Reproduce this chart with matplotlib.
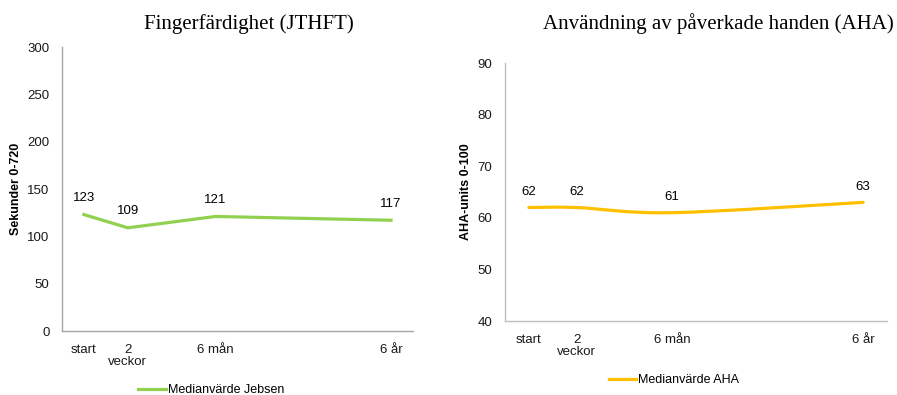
import numpy as np
import matplotlib.pyplot as plt
from matplotlib.path import Path
from matplotlib.patches import PathPatch
from matplotlib.lines import Line2D

# Mättillfällen (x-läge för varje tillfälle på tidsaxeln)
tillfallen = ["start", "2\nveckor", "6 mån", "6 år"]
x_lage = [0, 1, 3, 7]

# Medianvärden
jebsen = [123, 109, 121, 117]
aha = [62, 62, 61, 63]

gron = "#92D050"
gul = "#FFC000"

plt.rcParams["font.family"] = ["Liberation Sans", "DejaVu Sans"]

fig = plt.figure(figsize=(8.97, 3.95), dpi=100)
ax1 = fig.add_axes([0.0691, 0.162, 0.3913, 0.719])
ax2 = fig.add_axes([0.563, 0.1873, 0.4259, 0.653])


def stil(ax, spinefarg):
    for s in ["top", "right"]:
        ax.spines[s].set_visible(False)
    for s in ["left", "bottom"]:
        ax.spines[s].set_color(spinefarg)
        ax.spines[s].set_linewidth(1.0)
    ax.tick_params(axis="both", length=0, labelsize=9.5, colors="#1a1a1a")
    ax.tick_params(axis="y", pad=9)
    ax.tick_params(axis="x", pad=9)
    ax.set_xlim(-0.5, 7.5)
    ax.set_xticks(x_lage)
    ax.set_xticklabels(tillfallen, linespacing=1.0)


def mjuk_kurva(ax, x, y, farg):
    # Kubiska Bezier-segment genom punkterna (Catmull-Rom)
    p = np.column_stack([x, y]).astype(float)
    ext = np.vstack([p[0], p, p[-1]])
    verts = [tuple(p[0])]
    codes = [Path.MOVETO]
    for i in range(len(p) - 1):
        p0, p1, p2, p3 = ext[i], ext[i + 1], ext[i + 2], ext[i + 3]
        c1 = p1 + (p2 - p0) / 6
        c2 = p2 - (p3 - p1) / 6
        verts += [tuple(c1), tuple(c2), tuple(p2)]
        codes += [Path.CURVE4] * 3
    patch = PathPatch(Path(verts, codes), facecolor="none", edgecolor=farg,
                      lw=2.3, capstyle="round", joinstyle="round")
    ax.add_patch(patch)


# Vänster: Jebsen
stil(ax1, "#A6A6A6")
ax1.plot(x_lage, jebsen, color=gron, lw=2.3, solid_joinstyle="round")
ax1.set_ylim(0, 300)
ax1.set_yticks(range(0, 301, 50))
ax1.set_ylabel("Sekunder 0-720", fontsize=9, fontweight="bold", labelpad=4)
for xv, yv in zip(x_lage, jebsen):
    ax1.annotate(str(yv), (xv, yv), xytext=(0, 12), textcoords="offset points",
                 ha="center", va="center", fontsize=9.5)

# Höger: AHA
stil(ax2, "#BFBFBF")
mjuk_kurva(ax2, x_lage, aha, gul)
ax2.set_ylim(40, 90)
ax2.set_yticks(range(40, 91, 10))
ax2.set_ylabel("AHA-units 0-100", fontsize=9, fontweight="bold", labelpad=4)
for xv, yv in zip(x_lage, aha):
    ax2.annotate(str(yv), (xv, yv), xytext=(0, 11), textcoords="offset points",
                 ha="center", va="center", fontsize=9.5)

# Rubriker
fig.text(249 / 897, 1 - 24 / 395, "Fingerfärdighet (JTHFT)", ha="center", va="center",
         family="Liberation Serif", fontsize=15)
fig.text(718 / 897, 1 - 24 / 395, "Användning av påverkade handen (AHA)", ha="center",
         va="center", family="Liberation Serif", fontsize=15)

# Förklaringar
fig.legend(handles=[Line2D([], [], color=gron, lw=2.3)], labels=["Medianvärde Jebsen"],
           loc="center", bbox_to_anchor=(211 / 897, 1 - 390 / 395), frameon=False,
           fontsize=9, handlelength=2.2, handletextpad=0.15)
fig.legend(handles=[Line2D([], [], color=gul, lw=2.3)], labels=["Medianvärde AHA"],
           loc="center", bbox_to_anchor=(674 / 897, 1 - 380 / 395), frameon=False,
           fontsize=9, handlelength=2.2, handletextpad=0.15)

fig.savefig("out.png", dpi=100)
